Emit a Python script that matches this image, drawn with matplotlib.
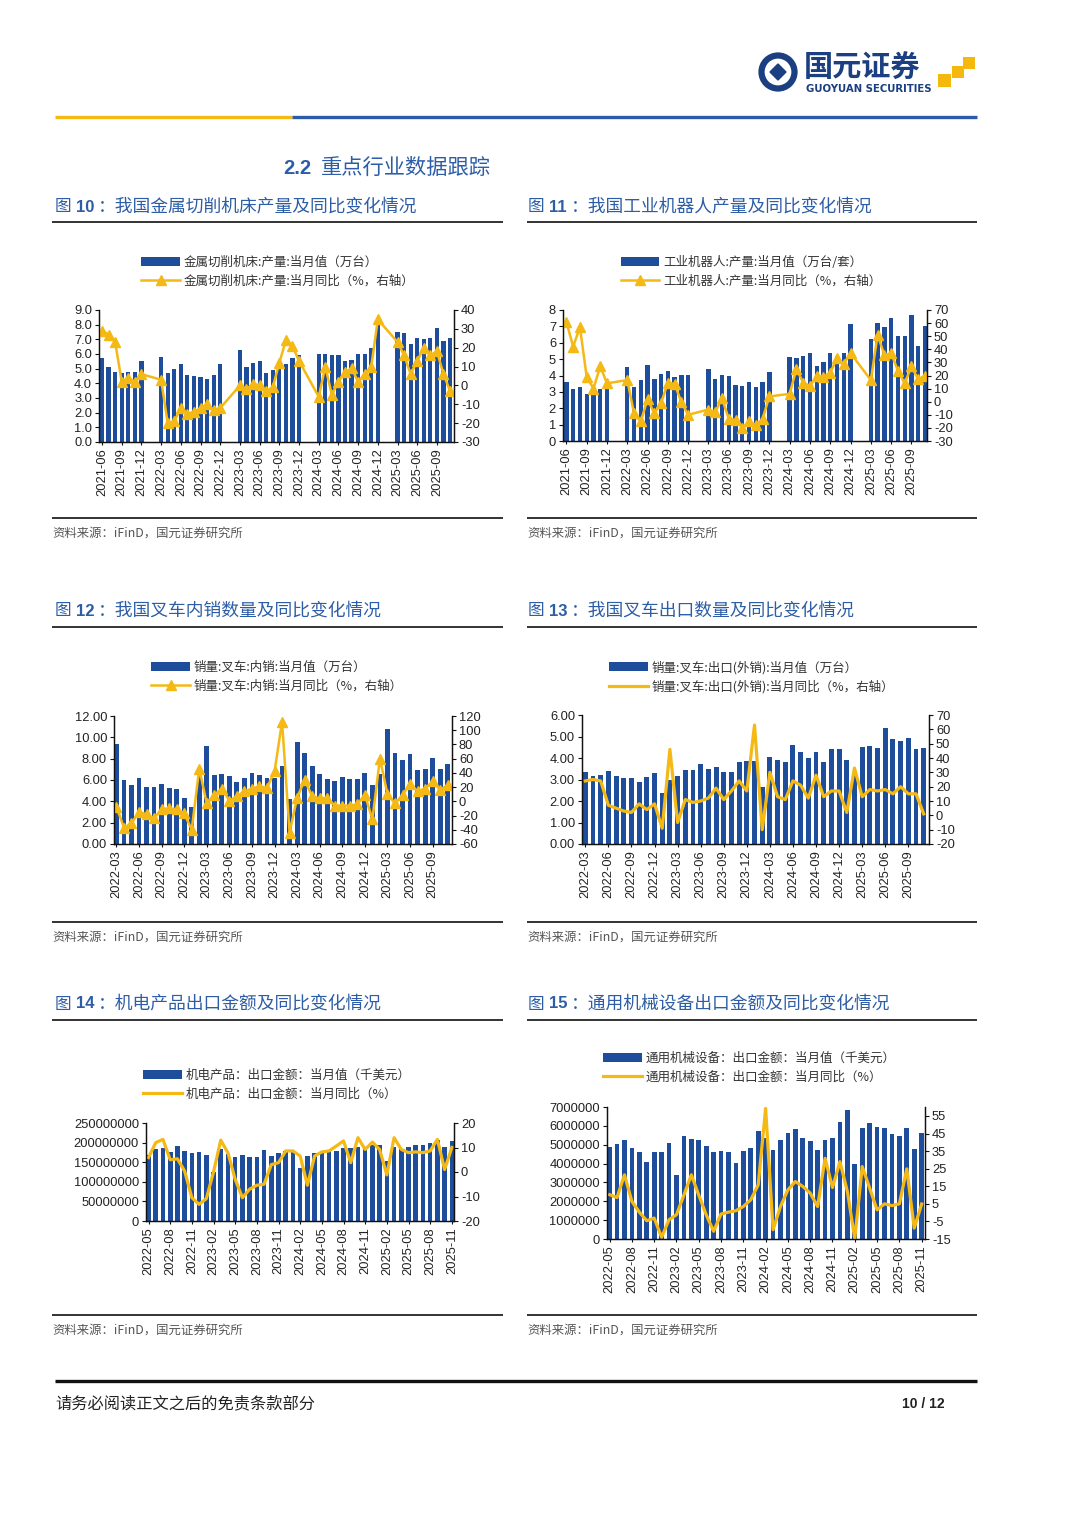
import numpy as np
import pandas as pd
import matplotlib
matplotlib.use('Agg')
import matplotlib.pyplot as plt
from matplotlib.patches import Rectangle, Circle, RegularPolygon
import matplotlib.ticker as mticker

plt.rcParams['font.family'] = ['Liberation Sans', 'Noto Sans CJK SC', 'DejaVu Sans']
plt.rcParams['axes.unicode_minus'] = False

nan = np.nan
W, H = 1080, 1527
BLUE = '#1E4D9B'
GOLD = '#F4B915'
TITLE_BLUE = '#2C5DA6'
NAVY = '#1B3F80'

# ---------------- data ----------------
months_a = list(pd.period_range('2021-06', '2025-11', freq='M').strftime('%Y-%m'))
months_b = list(pd.period_range('2022-03', '2025-11', freq='M').strftime('%Y-%m'))
months_c = list(pd.period_range('2022-05', '2025-11', freq='M').strftime('%Y-%m'))

# 图10 金属切削机床
mt_val = [5.7, 5.1, 4.8, 4.7, 4.8, 4.8, 5.5,
          nan, nan, 5.8, 4.7, 5.0, 5.3, 4.55, 4.5, 4.4, 4.3, 4.6, 5.3,
          nan, nan, 6.3, 5.1, 5.4, 5.5, 4.7, 4.9, 5.0, 5.3, 5.7, 5.9,
          nan, nan, 6.0, 6.0, 5.9, 5.9, 5.5, 5.6, 6.0, 6.0, 6.4, 8.0,
          nan, nan, 7.5, 7.4, 6.7, 7.1, 7.0, 7.1, 7.8, 6.9, 7.1]
mt_yoy = [29, 27, 23, 2, 4, 2, 6,
          nan, nan, 3, -20, -19, -12, -15, -14, -12, -10, -13, -12,
          nan, nan, 0, -2, 1, 0, -3, -1, 12, 24, 21, 13,
          nan, nan, -6, 10, -5, 2, 7, 9, 2, 6, 10, 35,
          nan, nan, 23, 16, 6, 13, 20, 16, 18, 6, -3]

# 图11 工业机器人
rb_val = [3.6, 3.15, 3.3, 2.9, 2.95, 3.2, 3.3,
          nan, nan, 4.5, 3.3, 3.7, 4.65, 3.8, 4.1, 4.3, 3.9, 4.05, 4.05,
          nan, nan, 4.4, 3.8, 4.05, 4.0, 3.45, 3.35, 3.6, 3.3, 3.6, 4.2,
          nan, nan, 5.1, 5.05, 5.2, 5.35, 4.6, 4.8, 5.4, 5.2, 5.35, 7.15,
          nan, nan, 6.2, 7.2, 6.95, 7.5, 6.4, 6.4, 7.7, 5.8, 7.0]
rb_yoy = [61, 42, 57, 19, 10, 27, 14,
          nan, nan, 16.5, -9, -15, 2, -9, -1, 14.5, 13.5, -0.5, -10,
          nan, nan, -6, -8, 2.5, -13, -14, -20, -15, -18, -13, 4,
          nan, nan, 6, 25, 14.5, 12, 19.5, 19, 22, 33.5, 29, 37,
          nan, nan, 16.5, 51, 35.6, 37, 23.7, 14, 27, 17, 20]

# 图12 叉车内销
fd_val = [9.35, 6.0, 5.5, 6.2, 5.35, 5.35, 5.6, 5.25, 5.2, 4.3,
          3.5, 6.4, 9.2, 6.5, 6.6, 6.4, 5.8, 6.2, 6.65, 6.5, 6.2, 6.2,
          7.3, 4.2, 9.6, 8.5, 7.3, 6.6, 6.1, 5.9, 6.3, 6.1, 6.1, 6.7,
          5.5, 6.6, 10.8, 8.5, 7.9, 8.4, 6.9, 7.0, 8.1, 7.0, 7.5]
fd_yoy = [-7.5, -37, -31, -15, -18, -24, -11, -10, -11, -17,
          -40, 46, -3, 9, 18, 1, 7, 14, 18, 21, 19, 42,
          112, -44, 5, 30, 7, 4, 5, -6, -6, -6, -4, 9,
          -25, 60, 10, -3, 9, 25, 14, 18, 28, 16, 23]

# 图13 叉车出口
fe_val = [3.35, 3.15, 3.2, 3.4, 3.15, 3.05, 3.05, 2.9, 3.1, 3.3,
          2.35, 3.0, 3.15, 3.45, 3.45, 3.7, 3.5, 3.6, 3.35, 3.35, 3.8, 3.85,
          3.85, 2.65, 4.05, 3.9, 3.8, 4.6, 4.3, 4.0, 4.3, 3.8, 4.4, 4.4,
          3.9, 3.3, 4.5, 4.55, 4.45, 5.4, 4.9, 4.8, 4.95, 4.4, 4.45]
fe_yoy = [24, 25, 24, 7, 5, 3, 2, 8, 4, 8,
          -9, 46, -5, 11, 9, 10, 12, 19, 11, 17, 24, 17,
          63, -10, 30, 13, 11, 24, 21, 12, 28, 13, 17, 17,
          2, 33, 13, 18, 17, 18, 15, 20, 15, 15, 1]

# 图14 机电产品出口金额（千美元）
me_val = [168e6, 184e6, 185e6, 177e6, 191e6, 178e6, 173e6, 177e6, 169e6, 126e6,
          183e6, 172e6, 164e6, 168e6, 163e6, 163e6, 180e6, 166e6, 174e6, 179e6,
          179e6, 134e6, 166e6, 174e6, 176e6, 179e6, 179e6, 185e6, 185e6, 188e6,
          188e6, 195e6, 194e6, 153e6, 188e6, 183e6, 190e6, 193e6, 193e6, 198e6,
          207e6, 190e6, 205e6]
me_yoy = [5.9, 12, 13.3, 5, 5.4, 0.4, -10.5, -13.2, -10.9, 0,
          13, 7.8, -3, -10.5, -7, -5.4, -5, 3, 3.8, 8.6,
          8.6, 6.5, -5.4, 6.5, 8.2, 8.6, 10.6, 12.7, 3.8, 14,
          9.2, 12.2, 9.2, -1.2, 14, 9.2, 7.9, 8.2, 7.9, 8.6,
          13.3, 1, 10]

# 图15 通用机械设备出口金额（千美元）
gm_val = [4.89e6, 5.03e6, 5.24e6, 4.80e6, 4.62e6, 4.09e6, 4.59e6, 4.59e6, 5.10e6, 3.42e6,
          5.45e6, 5.31e6, 5.24e6, 4.94e6, 4.62e6, 4.69e6, 4.60e6, 4.04e6, 4.67e6, 4.83e6,
          5.73e6, 5.36e6, 4.74e6, 5.27e6, 5.63e6, 5.82e6, 5.33e6, 5.20e6, 4.74e6, 5.27e6,
          5.33e6, 6.21e6, 6.83e6, 4.00e6, 5.91e6, 6.16e6, 5.94e6, 5.86e6, 5.59e6, 5.45e6,
          5.91e6, 4.76e6, 5.63e6]
gm_yoy = [10.2, 8.6, 21.5, 6.4, 0.3, -4.6, -3.1, -14, -4, -1.2,
          10, 21.5, 10, -1.2, -10.6, -0.8, 0.3, 1.1, 3.5, 7.3,
          15.8, 59.3, -9.7, 3.5, 13, 17.7, 14.9, 11.1, 3.5, 30.9,
          14.3, 29, 12.1, -14.8, 26.2, 14, 1.6, 5, 4, 5,
          24.9, -8.8, 4.9]

titles = ['我国金属切削机床产量及同比变化情况', '我国工业机器人产量及同比变化情况',
          '我国叉车内销数量及同比变化情况', '我国叉车出口数量及同比变化情况',
          '机电产品出口金额及同比变化情况', '通用机械设备出口金额及同比变化情况']
fig_nums = ['10', '11', '12', '13', '14', '15']
legends = [('金属切削机床:产量:当月值（万台）', '金属切削机床:产量:当月同比（%，右轴）'),
           ('工业机器人:产量:当月值（万台/套）', '工业机器人:产量:当月同比（%，右轴）'),
           ('销量:叉车:内销:当月值（万台）', '销量:叉车:内销:当月同比（%，右轴）'),
           ('销量:叉车:出口(外销):当月值（万台）', '销量:叉车:出口(外销):当月同比（%，右轴）'),
           ('机电产品：出口金额：当月值（千美元）', '机电产品：出口金额：当月同比（%）'),
           ('通用机械设备：出口金额：当月值（千美元）', '通用机械设备：出口金额：当月同比（%）')]

# ---------------- figure ----------------
fig = plt.figure(figsize=(W / 100, H / 100), dpi=100)
fig.patch.set_facecolor('white')

ov = fig.add_axes([0, 0, 1, 1], zorder=-5)
ov.set_xlim(0, W)
ov.set_ylim(H, 0)
ov.axis('off')

CJK = ['Noto Sans CJK SC', 'DejaVu Sans']

# logo
ov.add_patch(Circle((778, 72), 16.5, fill=False, ec=NAVY, lw=4.5))
ov.add_patch(RegularPolygon((778, 72), 4, radius=8, color=NAVY))
ov.text(804, 68, '国元证券', fontsize=21, weight='bold', color=NAVY, va='center', ha='left', family=CJK)
ov.text(806, 89, 'GUOYUAN SECURITIES', fontsize=7.3, weight='bold', color=NAVY, va='center', ha='left',
        family=['DejaVu Sans'])
for (x0, y0, s) in [(938, 74, 13), (952, 66, 12), (963, 57, 12)]:
    ov.add_patch(Rectangle((x0, y0), s, s, color='#F5B80F', lw=0))

# header line
ov.plot([55, 292], [117, 117], color=GOLD, lw=2.4, solid_capstyle='butt')
ov.plot([292, 977], [117, 117], color='#2A5CAA', lw=2.4, solid_capstyle='butt')

# section heading
ov.text(283, 168, '2.2', fontsize=14.5, weight='bold', color=TITLE_BLUE, va='center', ha='left')
ov.text(321, 168, '重点行业数据跟踪', fontsize=15.3, color=TITLE_BLUE, va='center', ha='left', family=CJK)

row_y = [(207, 222, 518, 533), (611, 627, 922, 937), (1004, 1020, 1315, 1330)]
col_x = [(55, 52, 503), (528, 527, 977)]
k = 0
for (ty, ly, sy, st) in row_y:
    for (tx, lx0, lx1) in col_x:
        ov.text(tx, ty, '图', fontsize=12, color=TITLE_BLUE, va='center', ha='left', family=CJK)
        ov.text(tx + 21, ty, fig_nums[k], fontsize=12, weight='bold', color=TITLE_BLUE, va='center', ha='left')
        ov.text(tx + 43, ty, '：' + titles[k], fontsize=12.8, color=TITLE_BLUE, va='center', ha='left', family=CJK)
        ov.plot([lx0, lx1], [ly, ly], color='#111111', lw=1.2, solid_capstyle='butt')
        ov.plot([lx0, lx1], [sy, sy], color='#111111', lw=1.2, solid_capstyle='butt')
        ov.text(lx0, st, '资料来源：iFinD，国元证券研究所', fontsize=8.9, color='#555555', va='center', ha='left',
                family=CJK)
        k += 1

# footer
ov.plot([55, 977], [1381, 1381], color='#111111', lw=2.4, solid_capstyle='butt')
ov.text(55, 1404, '请务必阅读正文之后的免责条款部分', fontsize=11.7, color='#222222', va='center', ha='left', family=CJK)
ov.text(945, 1404, '10 / 12', fontsize=10, weight='bold', color='#222222', va='center', ha='right')


def make_axes(l, t, r, b):
    return fig.add_axes([l / W, 1 - b / H, (r - l) / W, (b - t) / H])


def combo(rect, cats, vals, yoy, lticks, lfmt, rlim, rticks, xlim, leg, leg_c, markers):
    ax = make_axes(*rect)
    x = np.arange(len(cats))
    v = np.array(vals, dtype=float)
    bars = ax.bar(x, v, width=0.64, color=BLUE, zorder=2, linewidth=0)
    ax.set_ylim(lticks[0], lticks[-1])
    ax.set_yticks(lticks)
    ax.yaxis.set_major_formatter(mticker.FormatStrFormatter(lfmt))
    ax.set_xlim(*xlim)
    ax.set_xticks(x[::3])
    ax.set_xticklabels([cats[i] for i in x[::3]], rotation=90)
    ax2 = ax.twinx()
    y = np.array(yoy, dtype=float)
    m = ~np.isnan(y)
    if markers:
        line, = ax2.plot(x[m], y[m], color=GOLD, lw=1.8, marker='^', ms=6.5, mec=GOLD, mfc=GOLD)
    else:
        line, = ax2.plot(x[m], y[m], color=GOLD, lw=2.3, solid_joinstyle='round')
    ax2.set_ylim(*rlim)
    ax2.set_yticks(rticks)
    ax2.set_xlim(*xlim)
    for a in (ax, ax2):
        a.spines['top'].set_visible(False)
        for s in ('left', 'right', 'bottom'):
            a.spines[s].set_linewidth(0.9)
            a.spines[s].set_color('#111111')
        a.tick_params(axis='y', direction='out', length=3, width=0.8, labelsize=9.3, pad=2, colors='#111111',
                      labelcolor='#222222')
    ax.tick_params(axis='x', direction='out', length=2.5, width=0.8, labelsize=9.3, pad=2, colors='#111111',
                   labelcolor='#222222')
    ax2.legend([bars, line], list(leg), loc='center', bbox_to_anchor=(leg_c[0] / W, 1 - leg_c[1] / H),
               bbox_transform=fig.transFigure, frameon=False, prop={'family': CJK, 'size': 9.0},
               handlelength=3.1, handleheight=0.7, labelspacing=0.45, handletextpad=0.3, borderpad=0,
               labelcolor='#333333')
    return ax, ax2


combo((99, 310, 454, 442), months_a, mt_val, mt_yoy, np.arange(0, 9.01, 1.0), '%.1f',
      (-30, 40), np.arange(-30, 41, 10), (-0.46, 53.6), legends[0], (278, 272), True)
combo((563, 310, 927, 441), months_a, rb_val, rb_yoy, np.arange(0, 8.01, 1), '%d',
      (-30, 70), np.arange(-30, 71, 10), (-0.5, 53.3), legends[1], (751, 272), True)
combo((114, 716, 452, 844), months_b, fd_val, fd_yoy, np.arange(0, 12.01, 2), '%.2f',
      (-60, 120), np.arange(-60, 121, 20), (-0.32, 44.57), legends[2], (277, 677), True)
combo((582, 715, 929, 844), months_b, fe_val, fe_yoy, np.arange(0, 6.01, 1), '%.2f',
      (-20, 70), np.arange(-20, 71, 10), (-0.43, 44.69), legends[3], (752, 677), False)
combo((146, 1123, 454, 1221), months_c, me_val, me_yoy, np.arange(0, 250000001, 50000000), '%d',
      (-20, 20), np.arange(-20, 21, 10), (-0.35, 42.3), legends[4], (277, 1085), False)
combo((607, 1107, 925, 1239), months_c, gm_val, gm_yoy, np.arange(0, 7000001, 1000000), '%d',
      (-15, 60.1), np.arange(-15, 56, 10), (-0.35, 42.45), legends[5], (749, 1068), False)

fig.savefig('out.png', dpi=100, facecolor='white')
